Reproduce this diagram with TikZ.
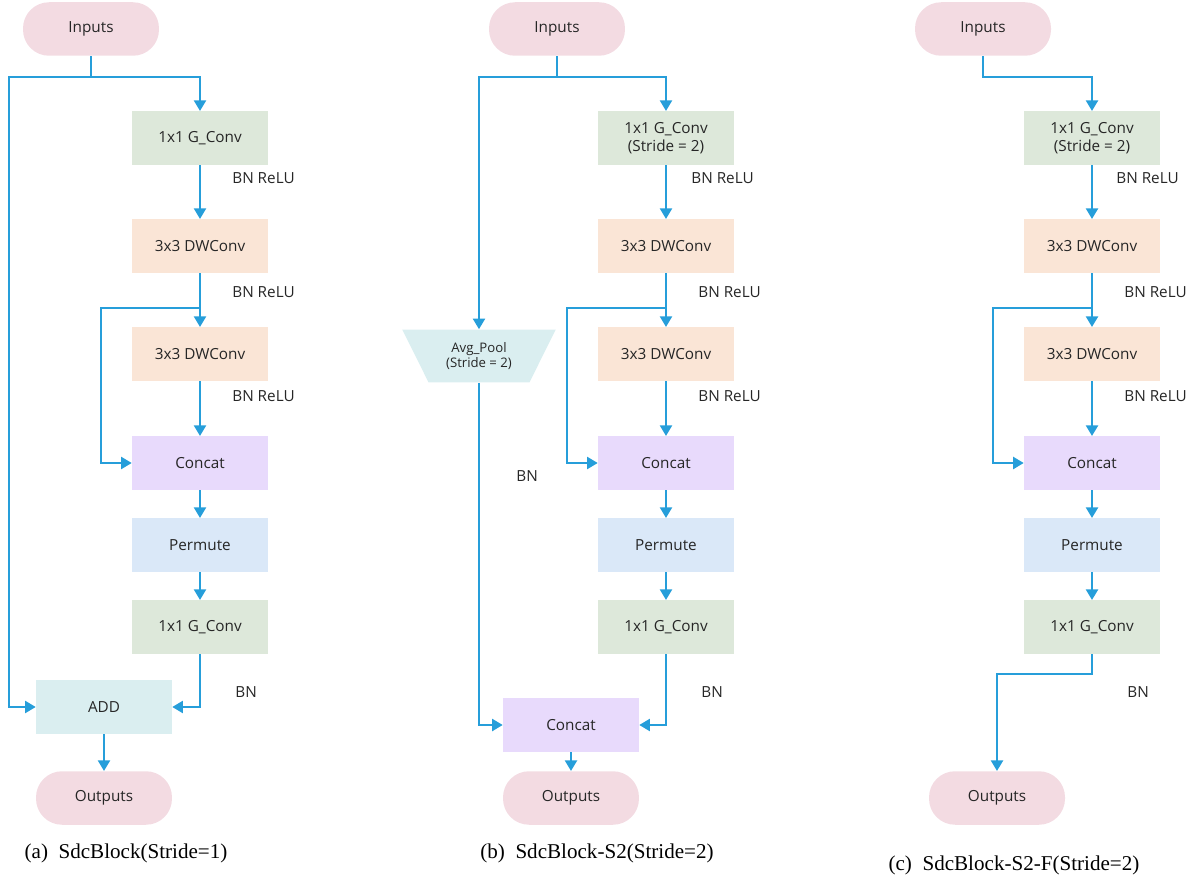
\documentclass[tikz,border=0pt]{standalone}
\usepackage{fontspec}
\setmainfont{Liberation Serif}
\newfontfamily\boxfont{Open Sans}
\usetikzlibrary{shapes.geometric,arrows.meta,calc}

\definecolor{ioPink}{RGB}{243,219,226}
\definecolor{gconvGreen}{RGB}{221,232,218}
\definecolor{dwPeach}{RGB}{250,229,214}
\definecolor{catLilac}{RGB}{232,218,252}
\definecolor{permBlue}{RGB}{218,232,248}
\definecolor{addTeal}{RGB}{218,238,240}
\definecolor{flowBlue}{RGB}{38,158,218}

\def\boxw{2.72cm}
\def\boxh{1.07cm}

\begin{document}
\begin{tikzpicture}[x=0.02cm, y=-0.02cm, >={Triangle[length=6pt,width=7pt]},
    font=\boxfont\fontsize{8.7}{10.5}\selectfont]
    \tikzstyle{block}=[rectangle, minimum width=\boxw, minimum height=\boxh, inner sep=1pt, align=center, text=black!85]
    \tikzstyle{terminal}=[block, fill=ioPink, rounded corners=0.52cm]
    \tikzstyle{gconv}=[block, fill=gconvGreen]
    \tikzstyle{dwconv}=[block, fill=dwPeach]
    \tikzstyle{concat}=[block, fill=catLilac]
    \tikzstyle{permute}=[block, fill=permBlue]
    \tikzstyle{addbox}=[block, fill=addTeal]
    \tikzstyle{pool}=[trapezium, shape border rotate=180, trapezium left angle=60, trapezium right angle=60,
        trapezium stretches=true, minimum width=3.08cm, minimum height=1.06cm, inner sep=1pt,
        fill=addTeal, align=center, text=black!85, font=\boxfont\fontsize{7.5}{9}\selectfont]
    \tikzstyle{note}=[anchor=west, inner sep=0pt, text=black!85]
    \tikzstyle{caption}=[inner sep=0pt, font=\rmfamily\fontsize{12}{14}\selectfont]
    \tikzstyle{line}=[draw=flowBlue, line width=0.75pt]
    \tikzstyle{arrow}=[line, ->]

    \useasboundingbox (0,0) rectangle (1199,881);

    % Inputs of the three blocks
    \node[terminal] (in-a) at (91,29) {Inputs};
    \node[terminal] (in-b) at (557,29) {Inputs};
    \node[terminal] (in-c) at (983,29) {Inputs};

    % Main branch, the same in every block
    \foreach \p/\x/\o/\gtxt in {a/200/32/{1x1 G\_Conv}, b/666/25/{1x1 G\_Conv\\(Stride = 2)}, c/1092/24/{1x1 G\_Conv\\(Stride = 2)}} {
        \node[gconv] (g1-\p) at (\x,138) {\gtxt};
        \node[dwconv] (dw1-\p) at (\x,246) {3x3 DWConv};
        \node[dwconv] (dw2-\p) at (\x,354) {3x3 DWConv};
        \node[concat] (cat-\p) at (\x,463) {Concat};
        \node[permute] (perm-\p) at (\x,545) {Permute};
        \node[gconv] (g2-\p) at (\x,627) {1x1 G\_Conv};

        \node[note] (bn1-\p) at (\x+\o,178) {BN ReLU};
        \node[note] (bn2-\p) at (\x+32,292) {BN ReLU};
        \node[note] (bn3-\p) at (\x+32,396) {BN ReLU};

        \foreach \s/\d in {g1/dw1, dw1/dw2, dw2/cat, cat/perm, perm/g2}
            \draw[arrow] (\s-\p) -- (\d-\p);

        % skip from the first DWConv to Concat
        \coordinate (tap-\p) at ($(dw1-\p.south)+(0,35)$);
        \draw[arrow] (tap-\p) -- ++(-99,0) |- (cat-\p.west);
    }

    % (a) stride 1
    \coordinate (split-a) at (91,77);
    \node[addbox] (add-a) at (104,707) {ADD};
    \node[terminal] (out-a) at (104,798) {Outputs};
    \node[note] (bn4-a) at (235,692) {BN};
    \draw[line] (in-a) -- (split-a);
    \draw[arrow] (split-a) -| (g1-a);
    \draw[arrow] (split-a) -- ++(-82,0) |- (add-a.west);
    \draw[arrow] (g2-a) |- (add-a);
    \draw[arrow] (add-a) -- (out-a);

    % (b) stride 2
    \coordinate (split-b) at (557,77);
    \node[pool] (pool-b) at (479,356) {Avg\_Pool\\(Stride = 2)};
    \node[concat] (cat2-b) at (571,725) {Concat};
    \node[terminal] (out-b) at (571,798) {Outputs};
    \node[note] (bn5-b) at (516,476) {BN};
    \node[note] (bn4-b) at (701,692) {BN};
    \draw[line] (in-b) -- (split-b);
    \draw[arrow] (split-b) -| (g1-b);
    \draw[arrow] (split-b) -| (pool-b);
    \draw[arrow] (pool-b) |- (cat2-b);
    \draw[arrow] (g2-b) |- (cat2-b);
    \draw[arrow] (cat2-b) -- (out-b);

    % (c) stride 2, no shortcut
    \coordinate (split-c) at (983,77);
    \node[terminal] (out-c) at (997,798) {Outputs};
    \node[note] (bn4-c) at (1127,692) {BN};
    \draw[arrow] (in-c) -- (split-c) -| (g1-c);
    \draw[arrow] (g2-c.south) -- ++(0,20) -| (out-c);

    % Captions
    \node[caption] (cap-a) at (126,853) {(a)\enspace SdcBlock(Stride=1)};
    \node[caption] (cap-b) at (597,853) {(b)\enspace SdcBlock-S2(Stride=2)};
    \node[caption] (cap-c) at (1014,865) {(c)\enspace SdcBlock-S2-F(Stride=2)};
\end{tikzpicture}
\end{document}
